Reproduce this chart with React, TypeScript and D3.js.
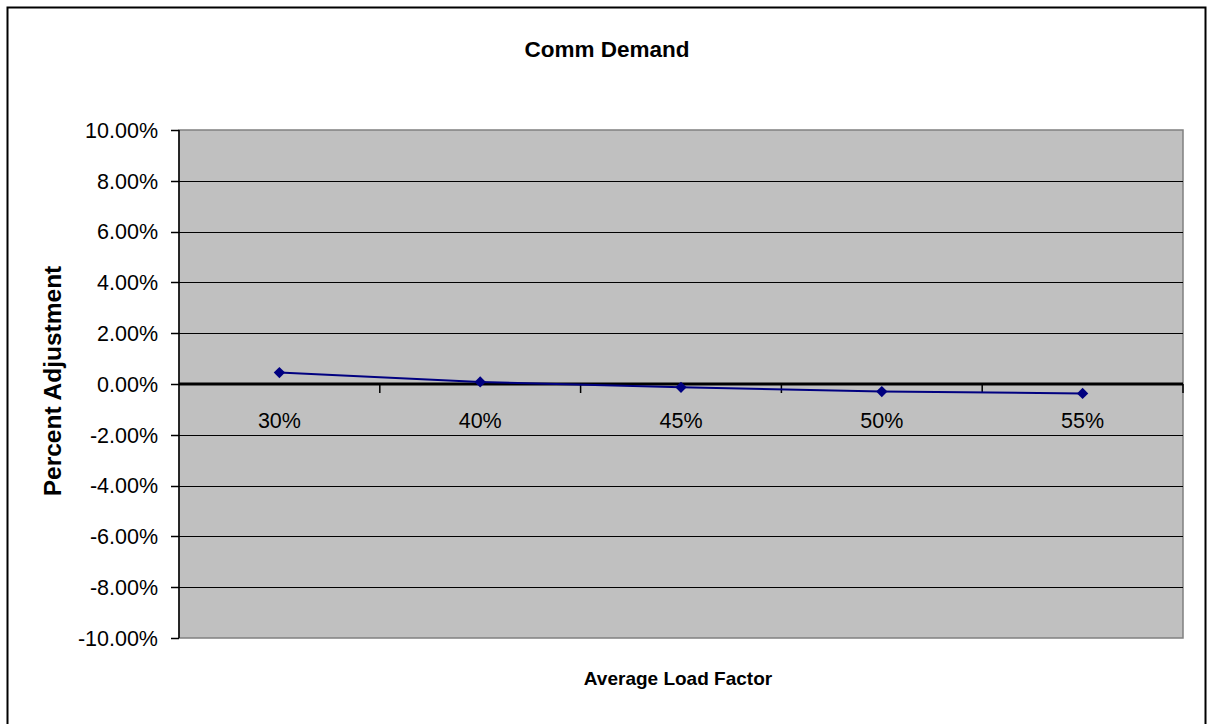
import React from "react";
import * as d3 from "d3";

const categories = ["30%", "40%", "45%", "50%", "55%"];
const values = [0.0045, 0.0008, -0.0013, -0.003, -0.0037];
const yTicks = [-0.1, -0.08, -0.06, -0.04, -0.02, 0, 0.02, 0.04, 0.06, 0.08, 0.1];

const W = 1209;
const H = 724;
const plot = { left: 179, right: 1183, top: 130, bottom: 638 };

export default function App() {
  const x = d3.scaleBand<string>().domain(categories).range([plot.left, plot.right]).padding(0);
  const y = d3.scaleLinear().domain([-0.1, 0.1]).range([plot.bottom, plot.top]);
  const fmt = (v: number) => d3.format(".2%")(v).replace("\u2212", "-");
  const line = d3
    .line<number>()
    .x((_, i) => (x(categories[i]) as number) + x.bandwidth() / 2)
    .y((d) => y(d));
  const marker = d3.symbol().type(d3.symbolSquare).size(64)();
  const boundaries = categories.map((c) => (x(c) as number) + x.bandwidth());
  const font = "Arial, 'Liberation Sans', sans-serif";

  return (
    <svg
      width={W}
      height={H}
      style={{ position: "absolute", left: 0, top: 0, background: "#fff" }}
      fontFamily={font}
    >
      <rect x={7.5} y={7.5} width={1198} height={740} fill="#fff" stroke="#000" strokeWidth={2} />
      <text x={607} y={57} textAnchor="middle" fontSize={22.5} fontWeight="bold">
        Comm Demand
      </text>
      <rect
        x={plot.left}
        y={plot.top}
        width={plot.right - plot.left}
        height={plot.bottom - plot.top}
        fill="#C0C0C0"
        stroke="#808080"
        strokeWidth={1.5}
      />
      {yTicks.map((t) => (
        <g key={t}>
          {t !== 0.1 && t !== -0.1 && t !== 0 && (
            <line x1={plot.left} x2={plot.right} y1={Math.round(y(t)) + 0.5} y2={Math.round(y(t)) + 0.5} stroke="#000" strokeWidth={1} />
          )}
          <line x1={plot.left - 8} x2={plot.left} y1={Math.round(y(t)) + 0.5} y2={Math.round(y(t)) + 0.5} stroke="#000" strokeWidth={1.5} />
          <text x={158} y={y(t)} dy="0.36em" textAnchor="end" fontSize={21.5} fill="#000">
            {fmt(t)}
          </text>
        </g>
      ))}
      <line x1={plot.left} x2={plot.left} y1={plot.top} y2={plot.bottom} stroke="#000" strokeWidth={1.5} />
      <line x1={plot.left} x2={plot.right} y1={y(0)} y2={y(0)} stroke="#000" strokeWidth={3} />
      {boundaries.map((b, i) => (
        <line key={i} x1={b} x2={b} y1={y(0)} y2={y(0) + 9} stroke="#000" strokeWidth={1.5} />
      ))}
      {categories.map((c) => (
        <text key={c} x={(x(c) as number) + x.bandwidth() / 2} y={428} textAnchor="middle" fontSize={21.5} fill="#000">
          {c}
        </text>
      ))}
      <path d={line(values) || ""} fill="none" stroke="#000080" strokeWidth={2} />
      {values.map((v, i) => (
        <path
          key={i}
          d={marker || ""}
          transform={`translate(${(x(categories[i]) as number) + x.bandwidth() / 2},${y(v)}) rotate(45)`}
          fill="#000080"
        />
      ))}
      <text x={678} y={685} textAnchor="middle" fontSize={19} fontWeight="bold">
        Average Load Factor
      </text>
      <text
        transform={`translate(61,381) rotate(-90)`}
        textAnchor="middle"
        fontSize={24.5}
        fontWeight="bold"
      >
        Percent Adjustment
      </text>
    </svg>
  );
}
